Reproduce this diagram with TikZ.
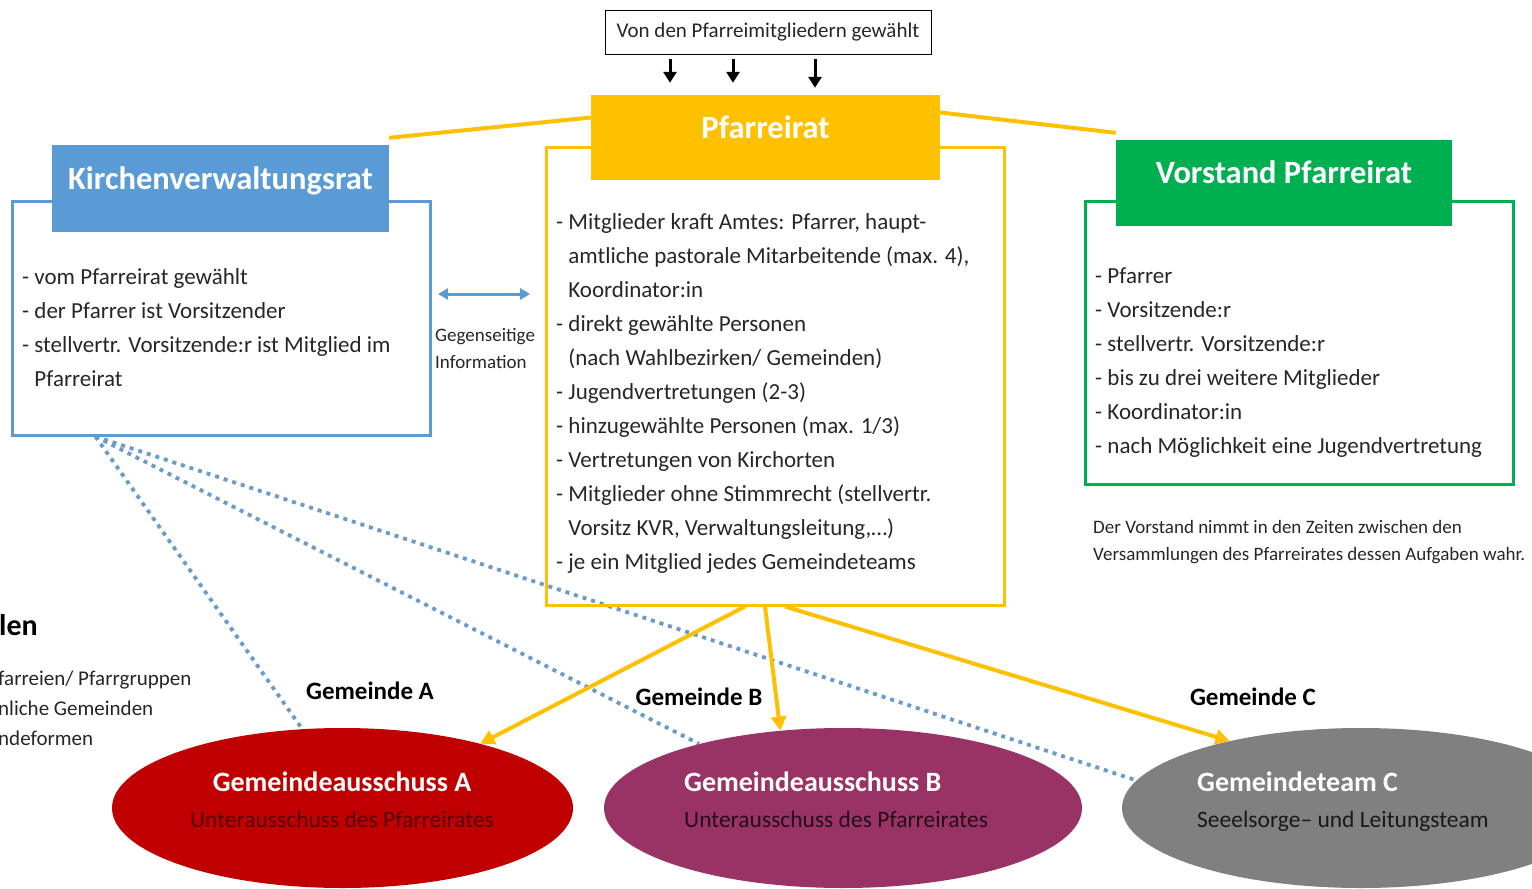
\documentclass[tikz,border=0pt]{standalone}
\usepackage{fontspec}
\setmainfont{Carlito}
\usepackage{tikz}
\usetikzlibrary{arrows.meta,shapes.geometric,positioning}
\pgfdeclarelayer{bg}
\pgfsetlayers{bg,main}

\definecolor{prgelb}{HTML}{FFC000}
\definecolor{kvrblau}{HTML}{5B9BD5}
\definecolor{vgruen}{HTML}{00B050}
\definecolor{garot}{HTML}{C00000}
\definecolor{galila}{HTML}{993366}
\definecolor{gtgrau}{HTML}{808080}
\definecolor{punktblau}{HTML}{6A9BCB}
\definecolor{schrift}{HTML}{262626}

\begin{document}
\begin{tikzpicture}[
					x = 1pt, y = -1pt,
					every node/.style = {text = schrift},
					kopf/.style = {rectangle, fill = #1, text = white, inner sep = 0pt,
						font = \fontsize{32.5}{34}\selectfont\bfseries, text height = 20pt, text depth = 19pt},
					rahmen/.style = {rectangle, draw = #1, line width = 3pt, inner sep = 0pt},
					liste/.style = {align = left, anchor = north west, inner sep = 0pt,
						font = \fontsize{23}{34}\selectfont},
					klein/.style = {align = left, anchor = north west, inner sep = 0pt,
						font = \fontsize{19}{27}\selectfont},
					gemeinde/.style = {ellipse, fill = #1, inner sep = 0pt, minimum height = 160pt},
					gtitel/.style = {anchor = base, inner sep = 0pt, text = white,
						font = \fontsize{28}{30}\selectfont\bfseries},
					gsub/.style = {anchor = base, inner sep = 0pt, font = \fontsize{23.5}{25}\selectfont},
					glabel/.style = {anchor = base, inner sep = 0pt, text = black,
						font = \fontsize{25}{27}\selectfont\bfseries},
					gelbpfeil/.style = {draw = prgelb, line width = 4pt, -{Triangle[length = 14pt, width = 15pt]}},
					wahlpfeil/.style = {draw = black, line width = 3pt, -{Triangle[length = 11pt, width = 13pt]}},
					punktlinie/.style = {draw = punktblau, line width = 3.8pt, dash pattern = on 4pt off 5pt}
					]

					\useasboundingbox (0,0) rectangle (1532,889);
					\clip (0,0) rectangle (1532,889);

					\node[draw, line width = 1pt, minimum width = 326pt, minimum height = 44pt,
						font = \fontsize{21}{23}\selectfont] (wahl) at (768,32) {Von den Pfarreimitgliedern gewählt};

					\node[rahmen = kvrblau, minimum width = 418pt, minimum height = 234pt] (kvrbox) at (221,318) {};
					\node[kopf = kvrblau, minimum width = 337pt, minimum height = 87pt] (kvrhead) at (220.5,188.5) {Kirchenverwaltungsrat};
					\node[liste] (kvrtext) at (22,268) {- vom Pfarreirat gewählt\\
						- der Pfarrer ist Vorsitzender\\
						- stellvertr. Vorsitzende:r ist Mitglied im\\
						\phantom{- }Pfarreirat};

					\node[rahmen = prgelb, minimum width = 458pt, minimum height = 458pt] (prbox) at (775,376) {};
					\node[kopf = prgelb, minimum width = 349pt, minimum height = 85pt] (prhead) at (765.5,137.5) {Pfarreirat};
					\node[liste] (prtext) at (556,213) {- Mitglieder kraft Amtes: Pfarrer, haupt-\\
						\phantom{- }amtliche pastorale Mitarbeitende (max. 4),\\
						\phantom{- }Koordinator:in\\
						- direkt gewählte Personen\\
						\phantom{- }(nach Wahlbezirken/ Gemeinden)\\
						- Jugendvertretungen (2-3)\\
						- hinzugewählte Personen (max. 1/3)\\
						- Vertretungen von Kirchorten\\
						- Mitglieder ohne Stimmrecht (stellvertr.\\
						\phantom{- }Vorsitz KVR, Verwaltungsleitung,…)\\
						- je ein Mitglied jedes Gemeindeteams};

					\node[rahmen = vgruen, minimum width = 428pt, minimum height = 283pt] (vbox) at (1299,342.5) {};
					\node[kopf = vgruen, minimum width = 336pt, minimum height = 86pt] (vhead) at (1284,183) {Vorstand Pfarreirat};
					\node[liste] (vtext) at (1095,268) {- Pfarrer\\
						- Vorsitzende:r\\
						- stellvertr. Vorsitzende:r\\
						- bis zu drei weitere Mitglieder\\
						- Koordinator:in\\
						- nach Möglichkeit eine Jugendvertretung};
					\node[klein] (vnotiz) at (1093,520) {Der Vorstand nimmt in den Zeiten zwischen den\\
						Versammlungen des Pfarreirates dessen Aufgaben wahr.};

					\node[klein] (gegen) at (435,328) {Gegenseitige\\Information};

					\node[anchor = base west, inner sep = 0pt, text = black,
						font = \fontsize{30}{32}\selectfont\bfseries] (modell) at (-1,635) {len};
					\node[align = left, anchor = north west, inner sep = 0pt,
						font = \fontsize{21}{30}\selectfont] (modelltext) at (-2,671) {farreien/ Pfarrgruppen\\
						nliche Gemeinden\\
						ndeformen};

					\node[gemeinde = garot, minimum width = 461pt] (gA) at (342.5,808) {};
					\node[gemeinde = galila, minimum width = 478pt] (gB) at (843,808) {};
					\node[gemeinde = gtgrau, minimum width = 478pt] (gC) at (1361,808) {};

					\node[gtitel] (gAtitel) at (342,791) {Gemeindeausschuss A};
					\node[gsub, text = black!55!garot] (gAsub) at (342,827) {Unterausschuss des Pfarreirates};
					\node[gtitel, anchor = base west] (gBtitel) at (684,791) {Gemeindeausschuss B};
					\node[gsub, anchor = base west, text = black!75!galila] (gBsub) at (684,827) {Unterausschuss des Pfarreirates};
					\node[gtitel, anchor = base west] (gCtitel) at (1197,791) {Gemeindeteam C};
					\node[gsub, anchor = base west, text = black!90] (gCsub) at (1197,827) {Seeelsorge– und Leitungsteam};

					\node[glabel] (labA) at (370,699) {Gemeinde A};
					\node[glabel] (labB) at (699,705) {Gemeinde B};
					\node[glabel] (labC) at (1253,705) {Gemeinde C};

					\coordinate (kvrfuss) at ([xshift = 85pt]kvrbox.south west);

					\begin{pgfonlayer}{bg}
						\draw[punktlinie] (kvrfuss) -- (gA.117);
						\draw[punktlinie] (kvrfuss) -- (gB.156);
						\draw[punktlinie] (kvrfuss) -- (gC.173);
					\end{pgfonlayer}

					\draw[wahlpfeil] ([xshift = -98pt, yshift = -4pt]wahl.south) -- ([xshift = -95.5pt, yshift = 12pt]prhead.north);
					\draw[wahlpfeil] ([xshift = -35pt, yshift = -4pt]wahl.south) -- ([xshift = -32.5pt, yshift = 12pt]prhead.north);
					\draw[wahlpfeil] ([xshift = 47pt, yshift = -4pt]wahl.south) -- ([xshift = 49.5pt, yshift = 7pt]prhead.north);

					\draw[draw = prgelb, line width = 4pt] ([yshift = 7pt]kvrhead.north east) -- ([yshift = 20pt]prhead.west);
					\draw[draw = prgelb, line width = 4pt] ([yshift = 25pt]prhead.east) -- ([yshift = 7pt]vhead.north west);

					\draw[draw = kvrblau, line width = 3pt, {Triangle[length = 10pt, width = 11pt]}-{Triangle[length = 10pt, width = 11pt]}]
						([xshift = 3pt, yshift = 34pt]gegen.north west) -- ([xshift = -5pt, yshift = 34pt]gegen.north east);

					\draw[gelbpfeil] ([xshift = -30pt]prbox.south) -- (gA.25);
					\draw[gelbpfeil] ([xshift = -10pt]prbox.south) -- (gB.129);
					\draw[gelbpfeil] ([xshift = 10pt]prbox.south) -- (gC.153);

				\end{tikzpicture}
\end{document}
